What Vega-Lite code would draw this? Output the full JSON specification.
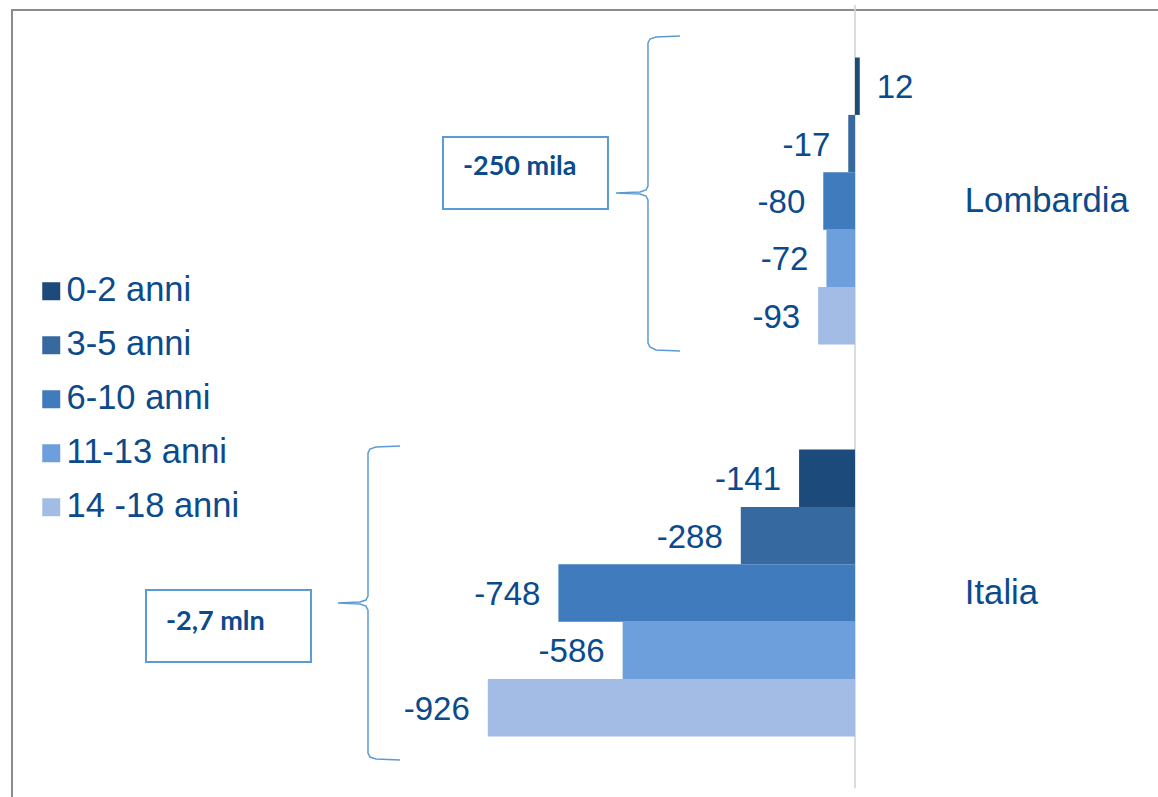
{
  "$schema": "https://vega.github.io/schema/vega-lite/v6.json",
  "autosize": {"type": "none"},
  "width": 1152,
  "height": 793,
  "padding": {"left": 12, "top": 10, "right": 0, "bottom": 0},
  "background": "white",
  "config": {"view": {"stroke": "#8c8c8c", "strokeWidth": 2}},
  "datasets": {
    "bars": [
      {"region": "Lombardia", "age": "0-2 anni", "value": 12},
      {"region": "Lombardia", "age": "3-5 anni", "value": -17},
      {"region": "Lombardia", "age": "6-10 anni", "value": -80},
      {"region": "Lombardia", "age": "11-13 anni", "value": -72},
      {"region": "Lombardia", "age": "14 -18 anni", "value": -93},
      {"region": "Italia", "age": "0-2 anni", "value": -141},
      {"region": "Italia", "age": "3-5 anni", "value": -288},
      {"region": "Italia", "age": "6-10 anni", "value": -748},
      {"region": "Italia", "age": "11-13 anni", "value": -586},
      {"region": "Italia", "age": "14 -18 anni", "value": -926}
    ],
    "regions": [
      {"region": "Lombardia"},
      {"region": "Italia"}
    ],
    "braces": [
      {"g": "L", "i": 1, "x": -441.4, "y": -0.375},
      {"g": "L", "i": 2, "x": -501.9, "y": -0.357},
      {"g": "L", "i": 3, "x": -517.0, "y": -0.322},
      {"g": "L", "i": 4, "x": -522.1, "y": -0.253},
      {"g": "L", "i": 5, "x": -522.1, "y": 2.239},
      {"g": "L", "i": 6, "x": -527.1, "y": 2.308},
      {"g": "L", "i": 7, "x": -542.2, "y": 2.343},
      {"g": "L", "i": 8, "x": -602.8, "y": 2.361},
      {"g": "L", "i": 9, "x": -542.2, "y": 2.378},
      {"g": "L", "i": 10, "x": -527.1, "y": 2.413},
      {"g": "L", "i": 11, "x": -522.1, "y": 2.483},
      {"g": "L", "i": 12, "x": -522.1, "y": 4.974},
      {"g": "L", "i": 13, "x": -517.0, "y": 5.044},
      {"g": "L", "i": 14, "x": -501.9, "y": 5.096},
      {"g": "L", "i": 15, "x": -441.4, "y": 5.113},
      {"g": "I", "i": 1, "x": -1147.5, "y": 6.768},
      {"g": "I", "i": 2, "x": -1208.1, "y": 6.786},
      {"g": "I", "i": 3, "x": -1223.2, "y": 6.821},
      {"g": "I", "i": 4, "x": -1228.2, "y": 6.890},
      {"g": "I", "i": 5, "x": -1228.2, "y": 9.382},
      {"g": "I", "i": 6, "x": -1233.3, "y": 9.451},
      {"g": "I", "i": 7, "x": -1248.4, "y": 9.486},
      {"g": "I", "i": 8, "x": -1303.9, "y": 9.504},
      {"g": "I", "i": 9, "x": -1248.4, "y": 9.521},
      {"g": "I", "i": 10, "x": -1233.3, "y": 9.556},
      {"g": "I", "i": 11, "x": -1228.2, "y": 9.626},
      {"g": "I", "i": 12, "x": -1228.2, "y": 12.117},
      {"g": "I", "i": 13, "x": -1223.2, "y": 12.187},
      {"g": "I", "i": 14, "x": -1208.1, "y": 12.221},
      {"g": "I", "i": 15, "x": -1147.5, "y": 12.239}
    ],
    "boxes": [
      {"x": -1039.1, "x2": -623.0, "y": 1.385, "y2": 2.639, "tx": -988.7, "ty": 1.908, "label": "-250 mila"},
      {"x": -1788.1, "x2": -1372.0, "y": 9.277, "y2": 10.531, "tx": -1737.7, "ty": 9.835, "label": "-2,7 mln"}
    ],
    "axisline": [
      {"x": 0, "y": -0.915, "y2": 12.73}
    ]
  },
  "encoding": {
    "x": {"type": "quantitative", "scale": {"domain": [-2126, 779.3], "nice": false, "zero": false}, "axis": null}
  },
  "layer": [
    {
      "layer": [
        {
          "data": {"name": "axisline"},
          "mark": {"type": "rule", "color": "#d4d4d4", "strokeWidth": 1.6},
          "encoding": {
            "x": {"field": "x", "type": "quantitative"},
            "y": {"field": "y", "type": "quantitative", "scale": {"domain": [-0.8275, 12.987], "reverse": true, "nice": false, "zero": false}, "axis": null},
            "y2": {"field": "y2"}
          }
        },
        {
          "data": {"name": "braces"},
          "mark": {"type": "line", "color": "#5b9bd5", "strokeWidth": 1.5},
          "encoding": {
            "x": {"field": "x", "type": "quantitative"},
            "y": {"field": "y", "type": "quantitative"},
            "detail": {"field": "g"},
            "order": {"field": "i", "type": "quantitative"}
          }
        },
        {
          "data": {"name": "boxes"},
          "mark": {"type": "rect", "fill": "white", "stroke": "#5b9bd5", "strokeWidth": 2},
          "encoding": {
            "x": {"field": "x", "type": "quantitative"},
            "x2": {"field": "x2"},
            "y": {"field": "y", "type": "quantitative"},
            "y2": {"field": "y2"}
          }
        },
        {
          "data": {"name": "boxes"},
          "mark": {"type": "text", "align": "left", "baseline": "middle", "font": "Lato", "fontWeight": "bold", "fontSize": 27, "color": "#0b4a8b"},
          "encoding": {
            "x": {"field": "tx", "type": "quantitative"},
            "y": {"field": "ty", "type": "quantitative"},
            "text": {"field": "label"}
          }
        }
      ]
    },
    {
      "layer": [
        {
          "data": {"name": "bars"},
          "mark": {"type": "bar"},
          "encoding": {
            "x": {"field": "value", "type": "quantitative"},
            "y": {"field": "region", "type": "nominal", "sort": ["Lombardia", "Italia"], "scale": {"domain": ["Lombardia", "Italia"], "range": [47.5, 726.5], "paddingInner": 0.268, "paddingOuter": 0}, "axis": null},
            "yOffset": {"field": "age", "type": "nominal", "scale": {"domain": ["0-2 anni", "3-5 anni", "6-10 anni", "11-13 anni", "14 -18 anni"], "paddingInner": 0, "paddingOuter": 0}},
            "color": {
              "field": "age", "type": "nominal",
              "scale": {"domain": ["0-2 anni", "3-5 anni", "6-10 anni", "11-13 anni", "14 -18 anni"], "range": ["#1c4a7a", "#36699f", "#3f7bbd", "#6d9fdc", "#a2bce6"]},
              "legend": {"orient": "none", "legendX": 22, "legendY": 264, "title": null, "symbolType": "square", "symbolSize": 324, "symbolStrokeWidth": 0, "labelFontSize": 34.5, "labelFont": "Liberation Sans", "labelColor": "#0b4a8b", "rowPadding": 19, "labelOffset": -2, "padding": 0, "labelLimit": 400}
            }
          }
        },
        {
          "data": {"name": "bars"},
          "transform": [{"filter": "datum.value < 0"}],
          "mark": {"type": "text", "align": "right", "baseline": "middle", "dx": -18, "dy": 2, "font": "Liberation Sans", "fontSize": 33, "color": "#0b4a8b"},
          "encoding": {
            "x": {"field": "value", "type": "quantitative"},
            "y": {"field": "region", "type": "nominal"},
            "yOffset": {"field": "age", "type": "nominal"},
            "text": {"field": "value"}
          }
        },
        {
          "data": {"name": "bars"},
          "transform": [{"filter": "datum.value >= 0"}],
          "mark": {"type": "text", "align": "left", "baseline": "middle", "dx": 17, "dy": 2, "font": "Liberation Sans", "fontSize": 33, "color": "#0b4a8b"},
          "encoding": {
            "x": {"field": "value", "type": "quantitative"},
            "y": {"field": "region", "type": "nominal"},
            "yOffset": {"field": "age", "type": "nominal"},
            "text": {"field": "value"}
          }
        },
        {
          "data": {"name": "regions"},
          "mark": {"type": "text", "align": "left", "baseline": "middle", "dy": 1, "font": "Liberation Sans", "fontSize": 34.7, "color": "#0b4a8b"},
          "encoding": {
            "x": {"datum": 277, "type": "quantitative"},
            "y": {"field": "region", "type": "nominal"},
            "text": {"field": "region"}
          }
        }
      ]
    }
  ],
  "resolve": {"scale": {"y": "independent"}}
}
